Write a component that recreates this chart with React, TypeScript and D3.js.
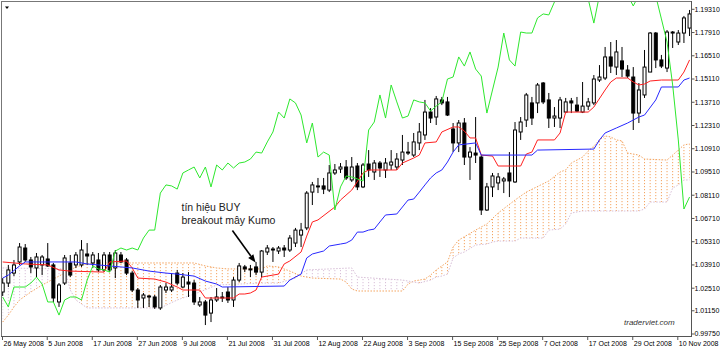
import * as d3 from "d3";

type Pt = [number, number];

// daily bars, 26 May 2008 .. 12 Nov 2008 (one label every 8 bars)
const dateLabels = [
  "26 May 2008", "5 Jun 2008", "17 Jun 2008", "27 Jun 2008", "9 Jul 2008", "21 Jul 2008",
  "31 Jul 2008", "12 Aug 2008", "22 Aug 2008", "3 Sep 2008", "15 Sep 2008", "25 Sep 2008",
  "7 Oct 2008", "17 Oct 2008", "29 Oct 2008", "10 Nov 2008",
];
const barsPerLabel = 8;

const priceTicks = [
  1.1931, 1.1791, 1.1651, 1.1511, 1.1371, 1.1231, 1.1091, 1.0951,
  1.0811, 1.0671, 1.0531, 1.0391, 1.0251, 1.0115, 0.9975,
];

const opens = [
  1.0228, 1.0282, 1.0342, 1.0409, 1.0493, 1.0421, 1.0373, 1.0391, 1.0427, 1.0391,
  1.0168, 1.0282, 1.0403, 1.0391, 1.0391, 1.0457, 1.0403, 1.0421, 1.0361, 1.0451,
  1.0373, 1.0451, 1.0421, 1.0342, 1.0240, 1.0192, 1.0204, 1.0198, 1.0132, 1.0240,
  1.0240, 1.0342, 1.0258, 1.0288, 1.0282, 1.0150, 1.0168, 1.0101, 1.0180, 1.0192,
  1.0228, 1.0180, 1.0300, 1.0379, 1.0367, 1.0379, 1.0348, 1.0469, 1.0487, 1.0475,
  1.0493, 1.0481, 1.0523, 1.0571, 1.0614, 1.0830, 1.0861, 1.0867, 1.0842, 1.0945,
  1.0969, 1.0981, 1.0903, 1.0987, 1.0861, 1.0999, 1.0951, 1.1005, 1.0963, 1.0993,
  1.0981, 1.1023, 1.1071, 1.1053, 1.1126, 1.1174, 1.1312, 1.1282, 1.1385, 1.1373,
  1.1210, 1.1126, 1.1246, 1.1041, 1.1065, 1.1041, 1.0722, 1.0861, 1.0885, 1.0897,
  1.0945, 1.0891, 1.1192, 1.1264, 1.1367, 1.1367, 1.1487, 1.1385, 1.1276, 1.1276,
  1.1312, 1.1379, 1.1354, 1.1312, 1.1348, 1.1367, 1.1505, 1.1517, 1.1644, 1.1583,
  1.1620, 1.1565, 1.1523, 1.1306, 1.1415, 1.1553, 1.1788, 1.1626, 1.1577, 1.1794,
  1.1734, 1.1788, 1.1818,
];
const highs = [
  1.0312, 1.0391, 1.0421, 1.0523, 1.0517, 1.0439, 1.0463, 1.0451, 1.0523, 1.0403,
  1.0282, 1.0451, 1.0451, 1.0469, 1.0541, 1.0523, 1.0469, 1.0463, 1.0469, 1.0469,
  1.0481, 1.0469, 1.0433, 1.0354, 1.0252, 1.0222, 1.0210, 1.0210, 1.0270, 1.0282,
  1.0342, 1.0361, 1.0342, 1.0348, 1.0300, 1.0198, 1.0180, 1.0198, 1.0252, 1.0228,
  1.0258, 1.0318, 1.0403, 1.0391, 1.0391, 1.0409, 1.0481, 1.0511, 1.0499, 1.0505,
  1.0511, 1.0571, 1.0614, 1.0644, 1.0836, 1.0891, 1.0915, 1.0915, 1.0993, 1.0999,
  1.1005, 1.1023, 1.1041, 1.1005, 1.1005, 1.1083, 1.1023, 1.1017, 1.1035, 1.1083,
  1.1065, 1.1174, 1.1132, 1.1186, 1.1246, 1.1385, 1.1336, 1.1409, 1.1403, 1.1403,
  1.1246, 1.1264, 1.1276, 1.1101, 1.1282, 1.1053, 1.0885, 1.0945, 1.0945, 1.0921,
  1.1071, 1.1252, 1.1282, 1.1427, 1.1403, 1.1487, 1.1493, 1.1427, 1.1342, 1.1403,
  1.1397, 1.1397, 1.1403, 1.1493, 1.1397, 1.1535, 1.1595, 1.1704, 1.1734, 1.1746,
  1.1704, 1.1595, 1.1583, 1.1487, 1.1686, 1.1794, 1.1794, 1.1656, 1.1806, 1.1800,
  1.1806, 1.1891, 1.1927,
];
const lows = [
  1.0204, 1.0258, 1.0324, 1.0391, 1.0409, 1.0342, 1.0318, 1.0330, 1.0379, 1.0168,
  1.0138, 1.0270, 1.0318, 1.0373, 1.0379, 1.0391, 1.0373, 1.0348, 1.0348, 1.0348,
  1.0312, 1.0403, 1.0330, 1.0228, 1.0132, 1.0132, 1.0138, 1.0126, 1.0120, 1.0222,
  1.0228, 1.0270, 1.0252, 1.0198, 1.0150, 1.0138, 1.0029, 1.0047, 1.0168, 1.0168,
  1.0162, 1.0138, 1.0288, 1.0348, 1.0318, 1.0330, 1.0318, 1.0451, 1.0409, 1.0457,
  1.0439, 1.0469, 1.0499, 1.0499, 1.0601, 1.0752, 1.0824, 1.0818, 1.0830, 1.0933,
  1.0945, 1.0903, 1.0891, 1.0842, 1.0854, 1.0921, 1.0903, 1.0921, 1.0915, 1.0963,
  1.0963, 1.0993, 1.1053, 1.1041, 1.1083, 1.1144, 1.1246, 1.1234, 1.1354, 1.1288,
  1.1071, 1.1071, 1.0993, 1.0903, 1.1005, 1.0692, 1.0716, 1.0800, 1.0842, 1.0824,
  1.0800, 1.0885, 1.1144, 1.1222, 1.1234, 1.1306, 1.1360, 1.1216, 1.1222, 1.1216,
  1.1306, 1.1306, 1.1312, 1.1306, 1.1324, 1.1354, 1.1493, 1.1505, 1.1547, 1.1535,
  1.1523, 1.1517, 1.1204, 1.1246, 1.1397, 1.1553, 1.1577, 1.1577, 1.1553, 1.1698,
  1.1716, 1.1728, 1.1770,
];
const closes = [
  1.0282, 1.0361, 1.0391, 1.0499, 1.0421, 1.0379, 1.0439, 1.0439, 1.0385, 1.0192,
  1.0270, 1.0433, 1.0330, 1.0451, 1.0481, 1.0445, 1.0451, 1.0361, 1.0451, 1.0361,
  1.0463, 1.0409, 1.0342, 1.0240, 1.0180, 1.0210, 1.0198, 1.0138, 1.0258, 1.0258,
  1.0258, 1.0282, 1.0318, 1.0276, 1.0168, 1.0168, 1.0089, 1.0180, 1.0198, 1.0198,
  1.0180, 1.0300, 1.0385, 1.0367, 1.0361, 1.0348, 1.0475, 1.0493, 1.0481, 1.0493,
  1.0481, 1.0553, 1.0601, 1.0601, 1.0824, 1.0873, 1.0867, 1.0848, 1.0945, 1.0963,
  1.0981, 1.0915, 1.0981, 1.0861, 1.0993, 1.0963, 1.1005, 1.0975, 1.1005, 1.1011,
  1.1029, 1.1071, 1.1065, 1.1132, 1.1192, 1.1312, 1.1276, 1.1391, 1.1367, 1.1294,
  1.1126, 1.1246, 1.1041, 1.1071, 1.1053, 1.0722, 1.0861, 1.0927, 1.0921, 1.0909,
  1.0897, 1.1204, 1.1252, 1.1415, 1.1276, 1.1475, 1.1373, 1.1276, 1.1288, 1.1385,
  1.1373, 1.1367, 1.1318, 1.1348, 1.1373, 1.1511, 1.1523, 1.1644, 1.1589, 1.1674,
  1.1571, 1.1529, 1.1306, 1.1445, 1.1583, 1.1788, 1.1626, 1.1589, 1.1794, 1.1788,
  1.1788, 1.1879, 1.1903,
];

// closes after the visible window, seen only through the lagging (chikou) span
const chikouTail = [
  1.1897, 1.1975, 1.2077, 1.2107, 1.2138, 1.2107, 1.2047, 1.1993, 1.1848, 1.2017,
  1.2077, 1.2107, 1.2138, 1.2107, 1.2017, 1.1951, 1.2017, 1.2077, 1.2047, 1.2011,
  1.1873, 1.1734, 1.1475, 1.1144, 1.0728, 1.0800,
];
const chikouShift = 26;

// [bar index, price] at the corners of each line
const tenkan: Pt[] = [
  [0, 1.0409], [2, 1.0403], [4, 1.0397], [8, 1.0391], [10, 1.0361], [12, 1.0354], [18, 1.0348],
  [19, 1.0409], [22, 1.0415], [23, 1.0373], [24, 1.0312], [27, 1.0306], [29, 1.0288], [31, 1.0258],
  [32, 1.0240], [35, 1.0240], [36, 1.0192], [41, 1.0192], [42, 1.0216], [43, 1.0216], [44, 1.0222],
  [45, 1.0240], [46, 1.0318], [49, 1.0336], [50, 1.0397], [51, 1.0415], [53, 1.0469], [54, 1.0565],
  [55, 1.0650], [56, 1.0662], [59, 1.0740], [60, 1.0782], [62, 1.0842], [64, 1.0945], [65, 1.0963],
  [70, 1.0963], [71, 1.1005], [73, 1.1035], [74, 1.1053], [75, 1.1126], [77, 1.1132], [78, 1.1192],
  [80, 1.1222], [81, 1.1222], [82, 1.1198], [83, 1.1156], [84, 1.1156], [85, 1.1053], [87, 1.1047],
  [88, 1.0987], [92, 1.0987], [93, 1.1059], [94, 1.1071], [95, 1.1144], [98, 1.1144], [99, 1.1186],
  [100, 1.1312], [104, 1.1312], [105, 1.1342], [107, 1.1445], [108, 1.1493], [109, 1.1517],
  [111, 1.1517], [112, 1.1493], [113, 1.1475], [114, 1.1481], [115, 1.1499], [117, 1.1505],
  [120, 1.1505], [121, 1.1553], [122, 1.1626],
];
const kijun: Pt[] = [
  [0, 1.0312], [1, 1.0330], [3, 1.0385], [4, 1.0409], [13, 1.0409], [15, 1.0397], [17, 1.0391],
  [21, 1.0379], [23, 1.0373], [26, 1.0354], [29, 1.0342], [31, 1.0336], [34, 1.0324], [36, 1.0294],
  [38, 1.0276], [39, 1.0258], [50, 1.0264], [51, 1.0300], [52, 1.0318], [53, 1.0336], [54, 1.0433],
  [55, 1.0457], [57, 1.0475], [58, 1.0505], [60, 1.0517], [61, 1.0523], [62, 1.0541], [63, 1.0589],
  [64, 1.0589], [65, 1.0601], [66, 1.0607], [67, 1.0650], [68, 1.0692], [70, 1.0698], [71, 1.0740],
  [72, 1.0782], [73, 1.0788], [74, 1.0830], [75, 1.0873], [76, 1.0915], [77, 1.0945], [78, 1.0963],
  [79, 1.1011], [80, 1.1071], [81, 1.1114], [84, 1.1126], [85, 1.1053], [94, 1.1053], [95, 1.1083],
  [105, 1.1089], [106, 1.1144], [107, 1.1186], [109, 1.1216], [111, 1.1246], [113, 1.1282],
  [114, 1.1294], [116, 1.1385], [117, 1.1463], [120, 1.1463], [121, 1.1505], [122, 1.1517],
];
const senkouA: Pt[] = [
  [0, 1.0047], [1, 1.0089], [2, 1.0138], [3, 1.0180], [5, 1.0228], [7, 1.0270], [9, 1.0306],
  [11, 1.0342], [13, 1.0379], [15, 1.0397], [17, 1.0403], [34, 1.0403], [36, 1.0385], [38, 1.0373],
  [40, 1.0367], [46, 1.0367], [47, 1.0385], [49, 1.0379], [51, 1.0354], [53, 1.0324], [55, 1.0312],
  [60, 1.0306], [61, 1.0288], [62, 1.0246], [63, 1.0234], [71, 1.0234], [72, 1.0276], [73, 1.0294],
  [75, 1.0306], [76, 1.0330], [77, 1.0361], [78, 1.0385], [79, 1.0409], [80, 1.0499], [81, 1.0541],
  [84, 1.0601], [86, 1.0638], [88, 1.0704], [91, 1.0782], [93, 1.0830], [97, 1.0897], [99, 1.0951],
  [100, 1.0963], [101, 1.1005], [103, 1.1041], [104, 1.1077], [105, 1.1107], [106, 1.1144],
  [107, 1.1168], [108, 1.1162], [109, 1.1144], [110, 1.1138], [111, 1.1065], [113, 1.1053],
  [114, 1.1029], [118, 1.1023], [119, 1.1053], [120, 1.1083], [121, 1.1114], [122, 1.1120],
];
const senkouB: Pt[] = [
  [0, 1.0373], [11, 1.0367], [12, 1.0240], [13, 1.0180], [15, 1.0132], [28, 1.0132], [31, 1.0180],
  [35, 1.0228], [38, 1.0270], [46, 1.0282], [49, 1.0282], [52, 1.0312], [54, 1.0361], [62, 1.0373],
  [63, 1.0318], [71, 1.0300], [74, 1.0282], [76, 1.0300], [77, 1.0318], [78, 1.0324], [79, 1.0336],
  [80, 1.0433], [81, 1.0457], [82, 1.0469], [84, 1.0511], [86, 1.0517], [87, 1.0529], [88, 1.0535],
  [91, 1.0535], [92, 1.0553], [96, 1.0553], [97, 1.0601], [99, 1.0607], [100, 1.0638], [101, 1.0704],
  [103, 1.0716], [113, 1.0716], [114, 1.0728], [115, 1.0770], [118, 1.0770], [119, 1.0854],
  [120, 1.0873], [121, 1.0903], [122, 1.0903],
];

const FONT = "'Liberation Sans', Arial, sans-serif";

export default function App() {
  const width = 720;
  const height = 351;
  const plot = { left: 1, top: 1, right: 691, bottom: 336 };

  const x = d3.scaleLinear().domain([0, 120]).range([2.7, 678.3]);
  const y = d3.scaleLinear().domain([0.9963, 1.1981]).range([plot.bottom, plot.top]);
  const fmt = d3.format(".5f");
  const line = d3.line<Pt>().x(d => x(d[0])).y(d => y(d[1]));

  const n = closes.length;
  const bars = d3.range(n);
  const chikou: Pt[] = bars.map(i => [
    i,
    i + chikouShift < n ? closes[i + chikouShift] : chikouTail[i + chikouShift - n],
  ]);

  const x0 = x(0) - 5, x1 = x(n - 1) + 5;
  const above = (pts: Pt[]) => line(pts) + `L${x1},-20L${x0},-20Z`;
  const below = (pts: Pt[]) => line(pts) + `L${x1},400L${x0},400Z`;

  const bodyW = 3;

  // annotation arrow
  const from: Pt = [x(40.8), 230.5];
  const tip: Pt = [x(44.9), 262.5];
  const dx = tip[0] - from[0], dy = tip[1] - from[1];
  const len = Math.hypot(dx, dy);
  const ux = dx / len, uy = dy / len;
  const head = 8, hw = 3.2;
  const bx = tip[0] - ux * head, by = tip[1] - uy * head;

  return (
    <svg width={width} height={height} style={{ position: "absolute", left: 0, top: 0, background: "#fff" }}>
      <defs>
        <clipPath id="plotClip">
          <rect x={plot.left} y={plot.top} width={plot.right - plot.left} height={plot.bottom - plot.top} />
        </clipPath>
        <clipPath id="belowA"><path d={below(senkouA)} /></clipPath>
        <clipPath id="aboveB"><path d={above(senkouB)} /></clipPath>
        <clipPath id="belowB"><path d={below(senkouB)} /></clipPath>
        <clipPath id="aboveA"><path d={above(senkouA)} /></clipPath>
      </defs>

      <rect x={0} y={0} width={width} height={height} fill="#fff" />

      <g clipPath="url(#plotClip)">
        {/* kumo: up cloud where span A is over span B, down cloud otherwise */}
        <g clipPath="url(#belowA)">
          <g clipPath="url(#aboveB)">
            {bars.map(i => (
              <line key={i} x1={x(i)} x2={x(i)} y1={0} y2={340}
                stroke="#F4A460" strokeWidth={1} strokeDasharray="1.2 1.8" />
            ))}
          </g>
        </g>
        <g clipPath="url(#belowB)">
          <g clipPath="url(#aboveA)">
            {bars.map(i => (
              <line key={i} x1={x(i)} x2={x(i)} y1={0} y2={340}
                stroke="#D8BFD8" strokeWidth={1} strokeDasharray="1.2 1.8" />
            ))}
          </g>
        </g>
        <path d={line(senkouA) ?? ""} fill="none" stroke="#F4A460" strokeWidth={1} strokeDasharray="1.5 1.5" />
        <path d={line(senkouB) ?? ""} fill="none" stroke="#D8BFD8" strokeWidth={1} strokeDasharray="1.5 1.5" />

        {/* candles */}
        {bars.map(i => {
          const cx = x(i);
          const up = closes[i] >= opens[i];
          const yTop = y(Math.max(opens[i], closes[i]));
          const yBot = y(Math.min(opens[i], closes[i]));
          return (
            <g key={i}>
              <line x1={cx} x2={cx} y1={y(highs[i])} y2={y(lows[i])} stroke="#000" strokeWidth={1} />
              <rect x={cx - bodyW / 2} y={yTop} width={bodyW} height={Math.max(yBot - yTop, 0.8)}
                fill={up ? "#fff" : "#000"} stroke="#000" strokeWidth={1} />
            </g>
          );
        })}

        <path d={line(tenkan) ?? ""} fill="none" stroke="#ff2020" strokeWidth={1} />
        <path d={line(kijun) ?? ""} fill="none" stroke="#2828ff" strokeWidth={1} />
        <path d={line(chikou) ?? ""} fill="none" stroke="#2ee82e" strokeWidth={1} />
      </g>

      {/* frame and axes */}
      <line x1={plot.left} x2={plot.right} y1={plot.top + 0.5} y2={plot.top + 0.5} stroke="#777" />
      <line x1={plot.left + 0.5} x2={plot.left + 0.5} y1={plot.top} y2={plot.bottom} stroke="#777" />
      <line x1={plot.right + 0.5} x2={plot.right + 0.5} y1={plot.top} y2={plot.bottom + 1} stroke="#555" />
      <line x1={plot.left} x2={plot.right + 1} y1={plot.bottom + 0.5} y2={plot.bottom + 0.5} stroke="#555" />
      <path d="M5,6.5L9,6.5L7,9Z" fill="#000" />

      {priceTicks.map(v => (
        <g key={v}>
          <line x1={plot.right + 1} x2={plot.right + 3.5} y1={y(v)} y2={y(v)} stroke="#555" />
          <text x={plot.right + 3.5} y={y(v)} dy="0.35em" fontFamily={FONT} fontSize={7} fill="#000">
            {fmt(v)}
          </text>
        </g>
      ))}

      {dateLabels.map((lbl, k) => {
        const tx = k === 0 ? 2 : x(k * barsPerLabel) - 1;
        return (
          <g key={lbl}>
            <line x1={tx + 0.5} x2={tx + 0.5} y1={plot.bottom} y2={plot.bottom + 4} stroke="#555" />
            <text x={tx + 1.5} y={346} fontFamily={FONT} fontSize={7} fill="#000">{lbl}</text>
          </g>
        );
      })}

      {/* annotation */}
      <text x={181.5} y={210.8} fontFamily={FONT} fontSize={10.5} fill="#222">tín hiệu BUY</text>
      <text x={181.5} y={223.6} fontFamily={FONT} fontSize={10.5} fill="#222">breakout mây Kumo</text>
      <line x1={from[0]} y1={from[1]} x2={bx} y2={by} stroke="#000" strokeWidth={1.6} />
      <path
        d={`M${tip[0]},${tip[1]}L${bx - uy * hw},${by + ux * hw}L${bx + uy * hw},${by - ux * hw}Z`}
        fill="#000"
      />

      <text x={624} y={325} fontFamily={FONT} fontSize={8} fontStyle="italic" fill="#333">traderviet.com</text>
    </svg>
  );
}
